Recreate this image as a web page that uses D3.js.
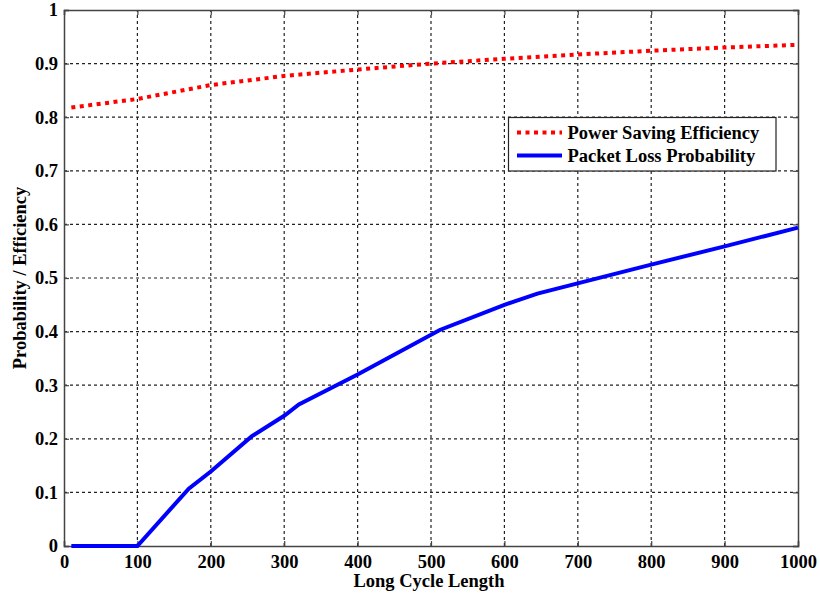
<!DOCTYPE html>
<html><head><meta charset="utf-8">
<script src="https://cdn.jsdelivr.net/npm/d3@7"></script>
<style>body{margin:0;background:#fff}svg{display:block}</style>
</head><body>
<script>
const xTicks = [0,100,200,300,400,500,600,700,800,900,1000];
const yTicks = [0,0.1,0.2,0.3,0.4,0.5,0.6,0.7,0.8,0.9,1];
const yTickLabels = ["0","0.1","0.2","0.3","0.4","0.5","0.6","0.7","0.8","0.9","1"];
const powerX = [10,100,200,300,400,500,600,700,800,900,1000];
const powerY = [0.818,0.834,0.860,0.877,0.889,0.900,0.909,0.917,0.924,0.930,0.935];
const lossX = [10,100,170,200,256,300,320,400,512,600,645,800,900,1000];
const lossY = [0,0,0.107,0.139,0.205,0.243,0.264,0.320,0.403,0.450,0.471,0.525,0.559,0.594];
const seriesNames = ["Power Saving Efficiency","Packet Loss Probability"];
const xLabel = "Long Cycle Length";
const yLabel = "Probability / Efficiency";

const W=820,H=599;
const m={l:64,r:22,t:10,b:53};
const svg=d3.select("body").append("svg").attr("width",W).attr("height",H);
const x=d3.scaleLinear().domain([0,1000]).range([m.l,W-m.r]);
const y=d3.scaleLinear().domain([0,1]).range([H-m.b,m.t]);
const font="'Liberation Serif','Times New Roman',serif";
const fs=18.5;

// grid
const g=svg.append("g");
g.selectAll(".vg").data(xTicks.slice(1,-1)).join("line")
 .attr("x1",d=>x(d)).attr("x2",d=>x(d)).attr("y1",y(0)).attr("y2",y(1))
 .attr("stroke","#222").attr("stroke-width",1.2).attr("stroke-dasharray","3,3");
g.selectAll(".hg").data(yTicks.slice(1,-1)).join("line")
 .attr("y1",d=>y(d)).attr("y2",d=>y(d)).attr("x1",x(0)).attr("x2",x(1000))
 .attr("stroke","#222").attr("stroke-width",1.2).attr("stroke-dasharray","3,3");

// axes
svg.append("g").attr("transform",`translate(0,${y(0)})`)
 .call(d3.axisBottom(x).tickValues(xTicks).tickSize(-5).tickPadding(9).tickFormat(d3.format("d")));
svg.append("g").attr("transform",`translate(${x(0)},0)`)
 .call(d3.axisLeft(y).tickValues(yTicks).tickSize(-5).tickPadding(6).tickFormat((d,i)=>yTickLabels[i]));
svg.append("g").attr("transform",`translate(0,${y(1)})`)
 .call(d3.axisTop(x).tickValues(xTicks).tickSize(-5).tickFormat(""));
svg.append("g").attr("transform",`translate(${x(1000)},0)`)
 .call(d3.axisRight(y).tickValues(yTicks).tickSize(-5).tickFormat(""));
svg.selectAll(".domain").attr("stroke","#444").attr("stroke-width",1.5);
svg.selectAll(".tick line").attr("stroke","#444").attr("stroke-width",1.2);
svg.selectAll(".tick text").attr("font-family",font).attr("font-weight","bold").attr("font-size",fs).attr("fill","#000");

// lines
const line=d3.line().x(d=>x(d[0])).y(d=>y(d[1]));
svg.append("path").datum(lossX.map((v,i)=>[v,lossY[i]])).attr("d",line)
 .attr("fill","none").attr("stroke","#0000ff").attr("stroke-width",4);
svg.append("path").datum(powerX.map((v,i)=>[v,powerY[i]])).attr("d",line)
 .attr("fill","none").attr("stroke","#ff0000").attr("stroke-width",4).attr("stroke-dasharray","4,4.5");

// labels
svg.append("text").attr("x",x(500)-2).attr("y",587).attr("text-anchor","middle")
 .attr("font-family",font).attr("font-weight","bold").attr("font-size",fs).text(xLabel);
svg.append("text").attr("transform",`translate(26,${(y(0)+y(1))/2}) rotate(-90)`).attr("text-anchor","middle")
 .attr("font-family",font).attr("font-weight","bold").attr("font-size",fs).text(yLabel);

// legend
const lg=svg.append("g");
lg.append("rect").attr("x",508.5).attr("y",117.5).attr("width",267.5).attr("height",53.5)
 .attr("fill","#fff").attr("stroke","#222").attr("stroke-width",1.2);
const colors=["#ff0000","#0000ff"];
seriesNames.forEach((n,i)=>{
  const yy=132.5+i*23;
  lg.append("line").attr("x1",517).attr("x2",562).attr("y1",yy).attr("y2",yy)
   .attr("stroke",colors[i]).attr("stroke-width",4).attr("stroke-dasharray",i===0?"4,4.5":null);
  lg.append("text").attr("x",567.5).attr("y",yy+6).attr("font-family",font).attr("font-weight","bold")
   .attr("font-size",fs).text(n);
});
</script>
</body></html>
